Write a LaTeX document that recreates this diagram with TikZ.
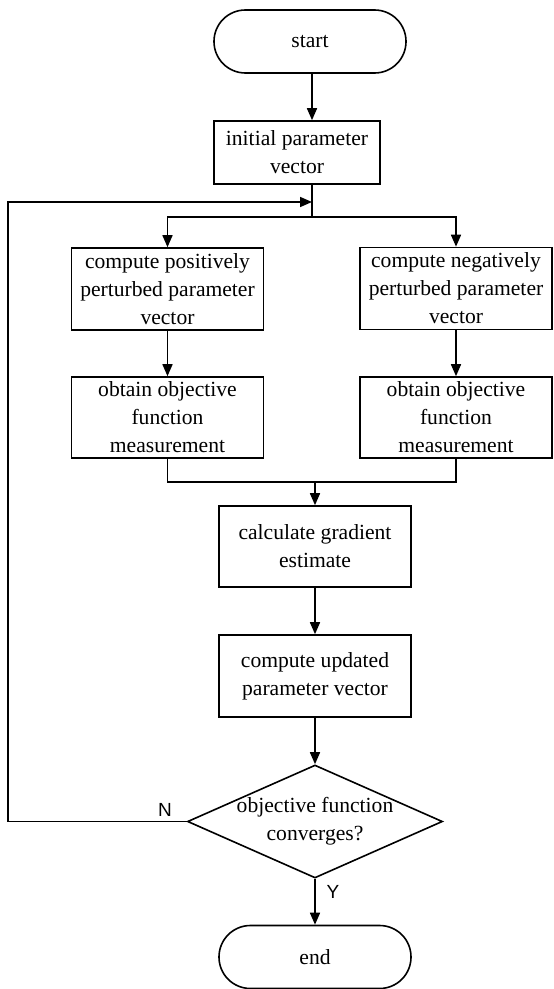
\documentclass[tikz,border=0pt]{standalone}
\usepackage{fontspec}
\setmainfont{Liberation Serif}
\newfontfamily\ynfont{Liberation Sans}
\usepackage{tikz}
\usetikzlibrary{arrows.meta,shapes.geometric}
\def\boxfont{\fontsize{10.8}{14}\selectfont}

\begin{document}
\begin{tikzpicture}[x=0.5pt, y=-0.5pt, line width=0.8pt,
	procbox/.style={draw, rectangle, align=center, inner sep=0.5pt, font=\boxfont},
	termbox/.style={draw, rectangle, rounded corners=15.7pt, minimum width=96pt, minimum height=31.5pt, font=\boxfont},
	decbox/.style={draw, diamond, shape aspect=2.26, align=center, inner sep=-1pt, minimum width=127.5pt, minimum height=56.5pt, font=\boxfont},
	flowarrow/.style={-{Triangle[length=6pt,width=5pt]}},
	yn/.style={font=\ynfont\fontsize{9.5}{10}\selectfont}]
			%%%%% START %%%%%
			
			\useasboundingbox (0, 0) rectangle (553, 989);
			
			\node[termbox] (start) at (310, 41.5) {start};
			\node[procbox, minimum width=83pt, minimum height=31.5pt] (init) at (297, 152.5) {initial parameter\\vector};
			
			\node[procbox, minimum width=96pt, minimum height=41pt] (pos) at (167.5, 289) {compute positively\\perturbed parameter\\vector};
			\node[procbox, minimum width=96pt, minimum height=41pt] (neg) at (456, 288.5) {compute negatively\\perturbed parameter\\vector};
			\node[procbox, minimum width=96pt, minimum height=40.5pt] (posobj) at (167.5, 417.5) {obtain objective\\function\\measurement};
			\node[procbox, minimum width=96pt, minimum height=40.5pt] (negobj) at (456, 417.5) {obtain objective\\function\\measurement};
			
			\node[procbox, minimum width=96pt, minimum height=40.5pt] (grad) at (315, 546.5) {calculate gradient\\estimate};
			\node[procbox, minimum width=96pt, minimum height=41pt] (update) at (315, 676) {compute updated\\parameter vector};
			\node[decbox] (check) at (315, 821.5) {objective function\\converges?};
			\node[termbox] (end) at (315, 957) {end};
			
			\node[yn] (no) at (165, 810) {N};
			\node[yn] (yes) at (333, 892) {Y};
			
			\coordinate (split) at (312, 217);
			\coordinate (loop) at (312, 202);
			\coordinate (edge) at (8, 202);
			\coordinate (merge) at (315, 482);
			
			\draw[flowarrow] (start.south -| split) -- (init.north -| split);
			\draw (init.south -| split) -- (split);
			\draw[flowarrow] (split) -| (pos.north);
			\draw[flowarrow] (split) -| (neg.north);
			
			\draw[flowarrow] (pos) -- (posobj);
			\draw[flowarrow] (neg) -- (negobj);
			\draw (posobj.south) |- (merge);
			\draw (negobj.south) |- (merge);
			
			\draw[flowarrow] (merge) -- (grad.north);
			\draw[flowarrow] (grad) -- (update);
			\draw[flowarrow] (update) -- (check);
			\draw[flowarrow] (check) -- (end);
			
			\draw[flowarrow] (check.west) -- (check.west -| edge) -- (edge) -- (loop);
			
			%%%%% END %%%%%
		\end{tikzpicture}
\end{document}
